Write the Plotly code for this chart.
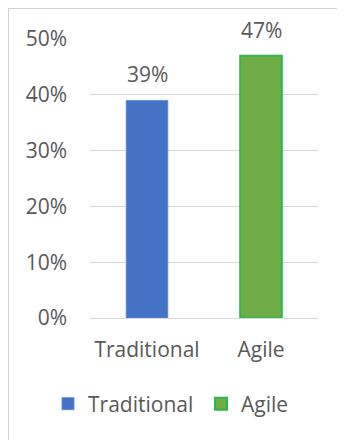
import plotly.graph_objects as go

categories = ["Traditional", "Agile"]
values = [0.39, 0.47]
fill_colors = ["#4472C4", "#70AD47"]
line_colors = ["#5A86D2", "#2DB84C"]
line_widths = [0.8, 2]
y_ticks = [0, 0.1, 0.2, 0.3, 0.4, 0.5]
y_tick_labels = ["0%", "10%", "20%", "30%", "40%", "50%"]

FONT = "'Open Sans', sans-serif"
TXT = "#595959"
FS = 21

OFF = 8  # page body margin
W, H = 337, 432
L, R, T, B = 82, 27, 31, 122
pw, ph = W - L - R, H - T - B


def px(x):
    return (x - OFF - L) / pw


def py(y):
    return (H - B - (y - OFF)) / ph


fig = go.Figure()
for cat, val, fc, lc, lw in zip(categories, values, fill_colors, line_colors, line_widths):
    fig.add_trace(go.Bar(
        x=[cat], y=[val], name=cat, width=0.365,
        marker=dict(color=fc, line=dict(color=lc, width=lw)),
        cliponaxis=False,
    ))
    fig.add_annotation(x=cat, y=val, text=f"{round(val * 100)}%", showarrow=False,
                       yanchor="bottom", yshift=10,
                       font=dict(family=FONT, size=FS, color=TXT))

fig.update_layout(
    width=W, height=H,
    margin=dict(l=L, r=R, t=T, b=B, pad=0, autoexpand=False),
    paper_bgcolor="white", plot_bgcolor="white",
    barmode="overlay",
    font=dict(family=FONT, color=TXT),
    showlegend=True,
    legend=dict(orientation="h", x=px(48), xanchor="left", y=py(404), yanchor="middle",
                font=dict(family=FONT, size=FS, color=TXT), itemwidth=30,
                entrywidth=108, entrywidthmode="pixels",
                traceorder="normal"),
    xaxis=dict(showgrid=False, showline=False, ticks="", ticklabelstandoff=17,
               tickfont=dict(family=FONT, size=FS, color=TXT)),
    yaxis=dict(range=[0, 0.5], tickvals=y_ticks, ticktext=y_tick_labels,
               showgrid=True, gridcolor="#D9D9D9", gridwidth=1,
               zeroline=True, zerolinecolor="#D9D9D9", zerolinewidth=1,
               showline=False, ticks="", ticklabelstandoff=22,
               tickfont=dict(family=FONT, size=FS, color=TXT)),
    shapes=[dict(type="rect", xref="paper", yref="paper",
                 x0=px(8.5), x1=px(400), y0=py(500), y1=py(8.5),
                 line=dict(color="#D0D0D0", width=1), fillcolor="rgba(0,0,0,0)", layer="below")],
)

fig.write_html("out.html")
